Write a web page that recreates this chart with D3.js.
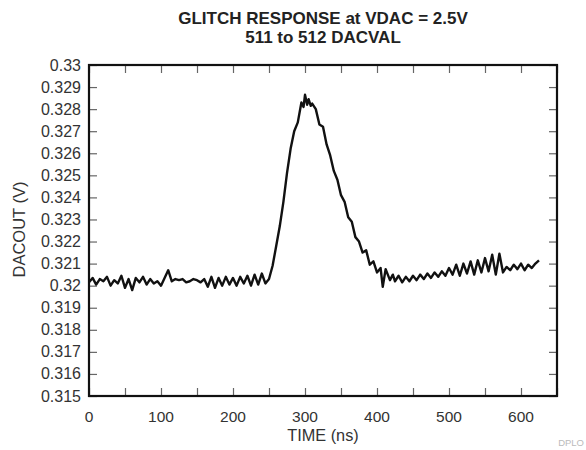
<!DOCTYPE html>
<html><head><meta charset="utf-8">
<script src="https://cdn.jsdelivr.net/npm/d3@7"></script>
<style>body{margin:0;background:#fff}svg{display:block}text{font-family:"Liberation Sans",Arial,sans-serif}</style>
</head><body>
<svg id="c" width="586" height="450"></svg>
<script>
const titleLines = ["GLITCH RESPONSE at VDAC = 2.5V", "511 to 512 DACVAL"];
const xLabel = "TIME (ns)";
const yLabel = "DACOUT (V)";
const xTickLabels = [0,100,200,300,400,500,600];
const yTickLabels = [0.315,0.316,0.317,0.318,0.319,0.32,0.321,0.322,0.323,0.324,0.325,0.326,0.327,0.328,0.329,0.33];
const timeNs = [0,5,10,15,20,25,30,35,40,45,50,55,60,65,70,75,80,85,90,95,100,105,110,115,120,125,130,135,140,145,150,155,160,165,170,175,180,185,190,195,200,205,210,215,220,225,230,235,240,245,250,255,260,265,270,275,280,285,290,295,298,300,303,305,308,310,315,320,325,330,335,340,345,350,355,360,365,370,375,380,385,390,395,400,405,408,412,418,422,425,430,435,440,445,450,455,460,465,470,475,480,485,490,495,500,505,510,515,520,525,530,535,540,545,550,555,560,565,570,575,580,585,590,595,600,605,610,615,620,625];
const dacout = [0.32015,0.32035,0.32005,0.32030,0.32020,0.32040,0.32000,0.32025,0.32010,0.32045,0.31990,0.32030,0.31980,0.32035,0.32015,0.32040,0.32005,0.32030,0.32010,0.32020,0.32000,0.32035,0.32070,0.32020,0.32030,0.32025,0.32030,0.32015,0.32020,0.32030,0.32025,0.32015,0.32030,0.31995,0.32040,0.31990,0.32035,0.32000,0.32040,0.32005,0.32035,0.32000,0.32040,0.32010,0.32045,0.32000,0.32050,0.32005,0.32055,0.32010,0.32030,0.32090,0.32180,0.32270,0.32380,0.32510,0.32620,0.32700,0.32740,0.32830,0.32810,0.32865,0.32820,0.32845,0.32815,0.32825,0.32800,0.32730,0.32720,0.32640,0.32590,0.32520,0.32480,0.32410,0.32380,0.32310,0.32290,0.32220,0.32200,0.32150,0.32160,0.32095,0.32110,0.32060,0.32080,0.31995,0.32075,0.32025,0.32050,0.32020,0.32045,0.32015,0.32040,0.32020,0.32045,0.32025,0.32050,0.32030,0.32055,0.32035,0.32060,0.32040,0.32065,0.32045,0.32080,0.32050,0.32095,0.32045,0.32100,0.32055,0.32110,0.32050,0.32115,0.32060,0.32125,0.32065,0.32140,0.32050,0.32145,0.32060,0.32085,0.32070,0.32095,0.32075,0.32100,0.32070,0.32095,0.32080,0.32100,0.32115];

const svg = d3.select("#c");
const L = 89, R = 557, T = 65, B = 396;
const x = d3.scaleLinear().domain([0,650]).range([L,R]);
const y = d3.scaleLinear().domain([0.315,0.33]).range([B,T]);
const tickLen = 8;
const xMinor = d3.range(0,651,50);

svg.append("g").attr("transform",`translate(0,${B})`)
  .call(d3.axisBottom(x).tickValues(xMinor).tickSizeInner(-tickLen).tickSizeOuter(0).tickFormat(""));
svg.append("g").attr("transform",`translate(0,${T})`)
  .call(d3.axisTop(x).tickValues(xMinor).tickSizeInner(-tickLen).tickSizeOuter(0).tickFormat(""));
svg.append("g").attr("transform",`translate(${L},0)`)
  .call(d3.axisLeft(y).tickValues(yTickLabels).tickSizeInner(-tickLen).tickSizeOuter(0).tickFormat(""));
svg.append("g").attr("transform",`translate(${R},0)`)
  .call(d3.axisRight(y).tickValues(yTickLabels).tickSizeInner(-tickLen).tickSizeOuter(0).tickFormat(""));
svg.selectAll(".domain").remove();
svg.selectAll(".tick line").attr("stroke","#666").attr("stroke-width",1.2);

svg.append("g").selectAll("text").data(xTickLabels).join("text")
  .attr("x",d=>x(d)).attr("y",B+26).attr("text-anchor","middle")
  .attr("font-size",15.5).attr("fill","#333").text(d=>d);
svg.append("g").selectAll("text").data(yTickLabels).join("text")
  .attr("x",L-8).attr("y",d=>y(d)+5.5).attr("text-anchor","end")
  .attr("font-size",16).attr("fill","#333").text(d=>d3.format("")(d));

svg.append("rect").attr("x",L).attr("y",T).attr("width",R-L).attr("height",B-T)
  .attr("fill","none").attr("stroke","#111").attr("stroke-width",2.2);

const pts = timeNs.map((t,i)=>[t,dacout[i]]);
svg.append("path").datum(pts)
  .attr("d",d3.line().x(d=>x(d[0])).y(d=>y(d[1])))
  .attr("fill","none").attr("stroke","#111").attr("stroke-width",2.4).attr("stroke-linejoin","round");

svg.append("g").selectAll("text").data(titleLines).join("text")
  .attr("x",323).attr("y",(d,i)=>24+i*19).attr("text-anchor","middle")
  .attr("font-size",17).attr("font-weight","bold").attr("fill","#222").text(d=>d);

svg.append("text").attr("x",323).attr("y",441).attr("text-anchor","middle")
  .attr("font-size",16.3).attr("fill","#333").text(xLabel);
svg.append("text").attr("transform",`translate(25,${(T+B)/2 - 1}) rotate(-90)`).attr("text-anchor","middle")
  .attr("font-size",16.5).attr("fill","#333").text(yLabel);
svg.append("text").attr("x",584).attr("y",446).attr("text-anchor","end")
  .attr("font-size",9.5).attr("fill","#bbb").text("DPLO");
</script>
</body></html>
